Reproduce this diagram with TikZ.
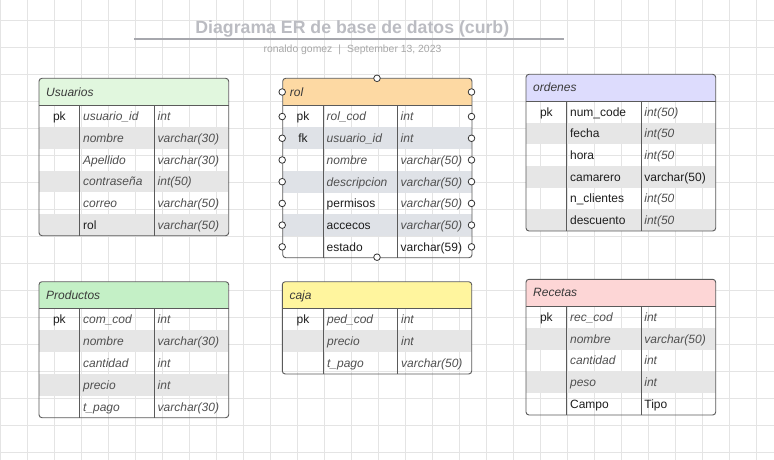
\documentclass[tikz,border=0pt]{standalone}
\usepackage{fontspec}
\setmainfont{Liberation Sans}
\definecolor{gridc}{HTML}{E4E4E4}
\definecolor{framec}{HTML}{5A5A5A}
\definecolor{itc}{HTML}{505050}
\definecolor{upc}{HTML}{1E1E1E}
\definecolor{hdrc}{HTML}{3A3A3A}
\definecolor{portc}{HTML}{333333}
\definecolor{shadeg}{HTML}{E6E6E6}
\definecolor{shadeb}{HTML}{DFE2E7}
\definecolor{hUsu}{HTML}{E1F7DE}
\definecolor{hPro}{HTML}{C4F0C6}
\definecolor{hRol}{HTML}{FDD9A3}
\definecolor{hOrd}{HTML}{DDDCFD}
\definecolor{hCaj}{HTML}{FFF59E}
\definecolor{hRec}{HTML}{FDD6D6}
\definecolor{titlec}{HTML}{BBBCC2}
\definecolor{rulec}{HTML}{A6A7AD}
\definecolor{subc}{HTML}{A8A8A8}
\tikzset{
  gridline/.style={draw=gridc, line width=0.8pt},
  frame/.style={draw=framec, line width=0.9pt},
  celltxt/.style={inner sep=0pt, anchor=base west},
  ftit/.style={celltxt, font=\fontsize{12}{14}\selectfont\itshape, text=itc},
  ftup/.style={celltxt, font=\fontsize{12}{14}\selectfont, text=upc},
  keytxt/.style={inner sep=0pt, anchor=base, font=\fontsize{12}{14}\selectfont, text=upc},
  hdrtxt/.style={inner sep=0pt, anchor=base west, font=\fontsize{12}{14}\selectfont\itshape, text=hdrc},
  port/.style={circle, draw=portc, fill=white, line width=0.8pt, inner sep=0pt, minimum size=6.6pt},
}
\newcommand\drawertable{%
  \pgfmathsetmacro\tRH{(\tB-\tHB)/\tN}%
  \begin{scope}
    \clip[rounded corners=3pt] (\tL,\tT) rectangle (\tR,\tB);
    \fill[\tHdr] (\tL,\tT) rectangle (\tR,\tHB);
    \foreach \i in {1,...,\tN}{\ifodd\i\else\fill[\tSh] (\tL,{\tHB+(\i-1)*\tRH}) rectangle (\tR,{\tHB+\i*\tRH});\fi}
  \end{scope}
  \draw[frame] (\tL,\tHB) -- (\tR,\tHB);
  \draw[frame] (\tDa,\tHB) -- (\tDa,\tB);
  \draw[frame] (\tDb,\tHB) -- (\tDb,\tB);
  \draw[frame, rounded corners=3pt] (\tL,\tT) rectangle (\tR,\tB);
  \node[hdrtxt] (\tName-h) at (\tL+7,{(\tT+\tHB)/2+4.3}) {\tTitle};
}
\newcommand\ertrows[1]{%
  \foreach [count=\i] \rk/\rf/\rfs/\rt/\rts in {#1}{%
    \pgfmathsetmacro\yc{\tHB+(\i-0.5)*\tRH+4.3}
    \node[keytxt] (\tName-k\i) at ({(\tL+\tDa)/2},\yc) {\rk};
    \node[\rfs] (\tName-f\i) at (\tDa+3.2,\yc) {\rf};
    \node[\rts] (\tName-t\i) at (\tDb+3.2,\yc) {\rt};
  }}
\begin{document}
\begin{tikzpicture}[x=1pt,y=-1pt]
\fill[white] (0,0) rectangle (774,460);
\useasboundingbox (0,0) rectangle (774,460);
% grid
\foreach \gx in {0,...,28} \draw[gridline] (0.5+27*\gx,0) -- (0.5+27*\gx,460);
\foreach \gy in {0,...,16} \draw[gridline] (0,20+27*\gy) -- (774,20+27*\gy);
% title
\node[inner sep=0pt, anchor=base, font=\fontsize{17.7}{20}\selectfont\bfseries, text=titlec] (title) at (352.3,33.3) {Diagrama ER de base de datos (curb)};
\coordinate (ruleL) at (134,39);
\coordinate (ruleR) at (564,39);
\draw[draw=rulec, line width=1.5pt] (ruleL) -- (ruleR);
\node[inner sep=0pt, anchor=base, font=\fontsize{10.4}{12}\selectfont, text=subc] (subtitle) at (352.5,53) {ronaldo gomez\hspace{6pt}|\hspace{6pt}September 13, 2023};

% Usuarios
\def\tName{usu}\def\tTitle{Usuarios}\def\tL{39}\def\tT{78.3}\def\tR{228.7}\def\tHB{105.7}\def\tB{235.7}\def\tDa{79.7}\def\tDb{154.3}\def\tN{6}\def\tHdr{hUsu}\def\tSh{shadeg}
\drawertable
\ertrows{pk/usuario\_id/ftit/int/ftit, /nombre/ftit/varchar(30)/ftit, /Apellido/ftit/varchar(30)/ftit, /contraseña/ftit/int(50)/ftit, /correo/ftit/varchar(50)/ftit, /rol/ftup/varchar(50)/ftit}

% rol
\def\tName{rol}\def\tTitle{rol}\def\tL{282.7}\def\tT{78.3}\def\tR{472}\def\tHB{105.7}\def\tB{257.7}\def\tDa{323.3}\def\tDb{397.3}\def\tN{7}\def\tHdr{hRol}\def\tSh{shadeb}
\drawertable
\ertrows{pk/rol\_cod/ftit/int/ftit, fk/usuario\_id/ftit/int/ftit, /nombre/ftit/varchar(50)/ftit, /descripcion/ftit/varchar(50)/ftit, /permisos/ftup/varchar(50)/ftit, /accecos/ftup/varchar(50)/ftit, /estado/ftup/varchar(59)/ftup}
\node[port] (rol-plh) at (282.2,92) {};
\node[port] (rol-prh) at (471.5,92) {};
\foreach \i in {1,...,7}{
  \pgfmathsetmacro\yc{105.7+(\i-0.5)*21.714}
  \node[port] (rol-pl\i) at (282.2,\yc) {};
  \node[port] (rol-pr\i) at (471.5,\yc) {};
}
\node[port] (rol-pt) at (377,78.3) {};
\node[port] (rol-pb) at (377,257.2) {};

% ordenes
\def\tName{ord}\def\tTitle{ordenes}\def\tL{526}\def\tT{74.3}\def\tR{715.7}\def\tHB{101}\def\tB{231}\def\tDa{566.7}\def\tDb{641}\def\tN{6}\def\tHdr{hOrd}\def\tSh{shadeg}
\drawertable
\ertrows{pk/num\_code/ftup/int(50)/ftit, /fecha/ftup/int(50/ftit, /hora/ftup/int(50/ftit, /camarero/ftup/varchar(50)/ftup, /n\_clientes/ftup/int(50/ftit, /descuento/ftup/int(50/ftit}

% Productos
\def\tName{pro}\def\tTitle{Productos}\def\tL{39}\def\tT{281.7}\def\tR{228.7}\def\tHB{308.3}\def\tB{417.7}\def\tDa{79.7}\def\tDb{154.3}\def\tN{5}\def\tHdr{hPro}\def\tSh{shadeg}
\drawertable
\ertrows{pk/com\_cod/ftit/int/ftit, /nombre/ftit/varchar(30)/ftit, /cantidad/ftit/int/ftit, /precio/ftit/int/ftit, /t\_pago/ftit/varchar(30)/ftit}

% caja
\def\tName{caj}\def\tTitle{caja}\def\tL{282.3}\def\tT{281.7}\def\tR{471.7}\def\tHB{308.3}\def\tB{374}\def\tDa{323.7}\def\tDb{397.7}\def\tN{3}\def\tHdr{hCaj}\def\tSh{shadeg}
\drawertable
\ertrows{pk/ped\_cod/ftit/int/ftit, /precio/ftit/int/ftit, /t\_pago/ftit/varchar(50)/ftit}

% Recetas
\def\tName{rec}\def\tTitle{Recetas}\def\tL{526}\def\tT{279.3}\def\tR{715.7}\def\tHB{306}\def\tB{415}\def\tDa{566.7}\def\tDb{641}\def\tN{5}\def\tHdr{hRec}\def\tSh{shadeg}
\drawertable
\ertrows{pk/rec\_cod/ftit/int/ftit, /nombre/ftit/varchar(50)/ftit, /cantidad/ftit/int/ftit, /peso/ftit/int/ftit, /Campo/ftup/Tipo/ftup}
\end{tikzpicture}
\end{document}
